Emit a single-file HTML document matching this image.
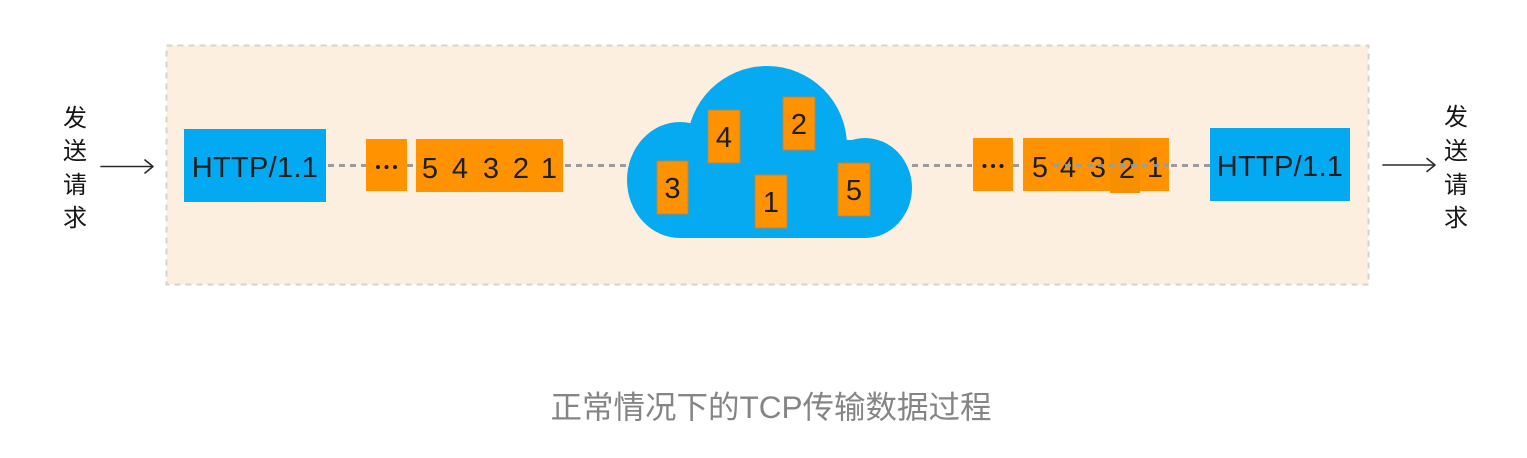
<!DOCTYPE html>
<html>
<head>
<meta charset="utf-8">
<style>
  html,body{margin:0;padding:0;background:#fff;}
  body{width:1527px;height:458px;overflow:hidden;}
  svg{display:block;}
  .hw{font-family:"Liberation Sans","Noto Sans CJK SC",sans-serif;fill:#1e1e1e;}
  .cj{font-family:"Liberation Sans","Noto Sans CJK SC",sans-serif;fill:#151515;font-weight:400;}
  .cap{font-family:"Liberation Sans","Noto Sans CJK SC",sans-serif;fill:#858585;}
</style>
</head>
<body>
<svg width="1527" height="458" viewBox="0 0 1527 458" xmlns="http://www.w3.org/2000/svg">
  <!-- background panel -->
  <rect x="166.5" y="45.5" width="1202" height="239" fill="#fdefdf" stroke="#d6d3cf" stroke-width="2" stroke-dasharray="6 5"/>

  <!-- dashed connectors -->
  <g stroke="#9b9b9b" stroke-width="3" stroke-dasharray="6 5" fill="none">
    <line x1="328" y1="165.5" x2="366" y2="165.5"/>
    <line x1="407" y1="165.5" x2="416" y2="165.5"/>
    <line x1="565" y1="165.5" x2="630" y2="165.5"/>
    <line x1="912" y1="165.5" x2="972" y2="165.5"/>
    <line x1="1013" y1="165.5" x2="1023" y2="165.5"/>
  </g>

  <!-- left HTTP box -->
  <rect x="184" y="129" width="142" height="73" fill="#03a9f1"/>
  <text x="255" y="177" class="hw" font-size="29" text-anchor="middle" letter-spacing="0.3">HTTP/1.1</text>

  <!-- left packets -->
  <rect x="366" y="139" width="41" height="52" fill="#fe9200"/>
  <g fill="#1a1a1a">
    <circle cx="378" cy="167" r="2"/>
    <circle cx="386.5" cy="167" r="2"/>
    <circle cx="395" cy="167" r="2"/>
  </g>
  <rect x="416" y="139" width="147" height="53" fill="#fe9200"/>
  <g class="hw" font-size="29" text-anchor="middle">
    <text x="430" y="178">5</text>
    <text x="460" y="178">4</text>
    <text x="491" y="178">3</text>
    <text x="521" y="178">2</text>
    <text x="549" y="178">1</text>
  </g>

  <!-- cloud -->
  <g fill="#06aaf1">
    <circle cx="767" cy="146" r="80"/>
    <ellipse cx="680" cy="180" rx="53" ry="58"/>
    <ellipse cx="865" cy="188" rx="47" ry="50"/>
    <rect x="680" y="140" width="185" height="98"/>
  </g>

  <!-- cloud packets -->
  <g fill="#fe9200" stroke="#b7864a" stroke-width="1">
    <rect x="708" y="110" width="32" height="53"/>
    <rect x="783" y="97" width="32" height="53"/>
    <rect x="657" y="161" width="31" height="53"/>
    <rect x="755" y="175" width="32" height="53"/>
    <rect x="838" y="163" width="32" height="53"/>
  </g>
  <g class="hw" font-size="29" text-anchor="middle">
    <text x="724" y="147">4</text>
    <text x="799" y="134">2</text>
    <text x="672.5" y="198">3</text>
    <text x="771" y="212">1</text>
    <text x="854" y="200">5</text>
  </g>

  <!-- right packets -->
  <rect x="973" y="138" width="40" height="53" fill="#fe9200"/>
  <g fill="#1a1a1a">
    <circle cx="984.5" cy="166" r="2"/>
    <circle cx="993" cy="166" r="2"/>
    <circle cx="1001.5" cy="166" r="2"/>
  </g>
  <rect x="1023" y="138" width="146" height="53" fill="#fe9200"/>
  <rect x="1110" y="140" width="30" height="53" fill="#f79000"/>
  <g class="hw" font-size="29" text-anchor="middle">
    <text x="1040" y="177">5</text>
    <text x="1068" y="177">4</text>
    <text x="1098" y="177">3</text>
    <text x="1127" y="178">2</text>
    <text x="1155" y="177">1</text>
  </g>
  <g stroke="#9b9b9b" stroke-width="3" stroke-dasharray="6 5" fill="none" opacity="0.85">
    <line x1="1054" y1="165.5" x2="1169" y2="165.5"/>
  </g>
  <g stroke="#9b9b9b" stroke-width="3" stroke-dasharray="6 5" fill="none">
    <line x1="1171" y1="165.5" x2="1210" y2="165.5"/>
  </g>

  <!-- right HTTP box -->
  <rect x="1210" y="128" width="140" height="73" fill="#03a9f1"/>
  <text x="1280" y="176" class="hw" font-size="29" text-anchor="middle" letter-spacing="0.3">HTTP/1.1</text>

  <!-- arrows -->
  <g stroke="#2a2a2a" stroke-width="1.6" fill="none" stroke-linecap="round" stroke-linejoin="round">
    <line x1="101" y1="166.5" x2="152" y2="166.5"/>
    <polyline points="145,160 153,166.5 145,173"/>
    <line x1="1383" y1="165" x2="1434" y2="165"/>
    <polyline points="1427,158.5 1435,165 1427,171.5"/>
  </g>

  <!-- vertical labels -->
  <g class="cj" font-size="24" text-anchor="middle">
    <text x="75" y="126">发</text>
    <text x="75" y="159">送</text>
    <text x="75" y="193">请</text>
    <text x="75" y="226">求</text>
    <text x="1456" y="125">发</text>
    <text x="1456" y="159">送</text>
    <text x="1456" y="193">请</text>
    <text x="1456" y="226">求</text>
  </g>

  <!-- caption -->
  <text x="771" y="418" class="cap" font-size="31.5" text-anchor="middle">正常情况下的TCP传输数据过程</text>
</svg>
</body>
</html>
